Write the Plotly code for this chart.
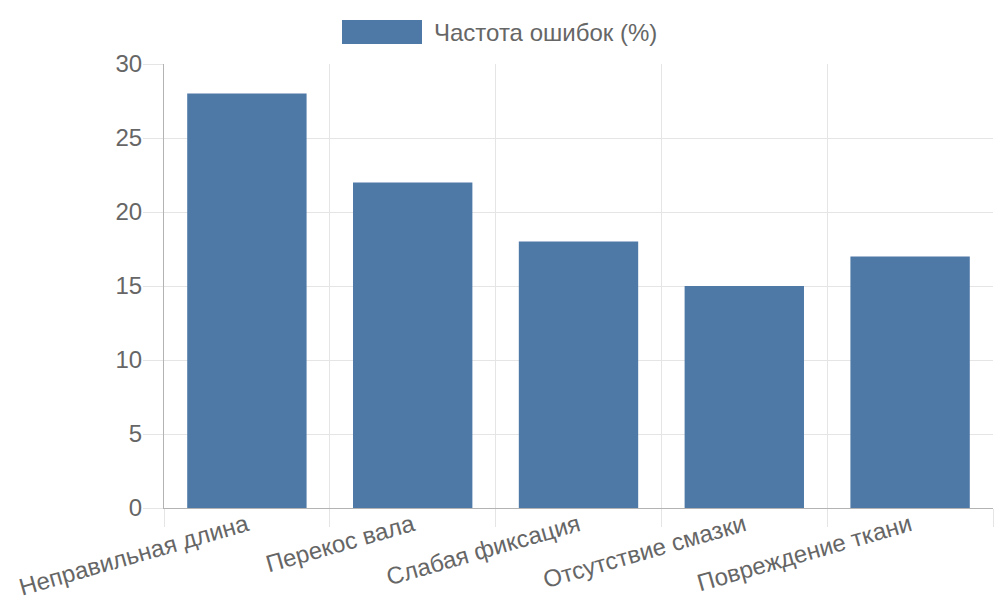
import plotly.graph_objects as go

categories = ["Неправильная длина", "Перекос вала", "Слабая фиксация", "Отсутствие смазки", "Повреждение ткани"]
values = [28, 22, 18, 15, 17]
series_name = "Частота ошибок (%)"
y_ticks = [0, 5, 10, 15, 20, 25, 30]

bar_color = "#4e79a7"
text_color = "#666666"
grid_color = "#e5e5e5"
axis_color = "#b3b3b3"
font_family = "Liberation Sans, Arial, sans-serif"
fsize = 24

fig = go.Figure()
fig.add_trace(go.Bar(
    x=categories, y=values, name=series_name,
    marker=dict(color=bar_color, line=dict(width=0)),
    showlegend=False,
))

W, H = 1000, 600
L, R, T, B = 164, 7, 64, 92
pw, ph = W - L - R, H - T - B

def px_x(p):
    return (p - L) / pw

def px_y(p):
    return (H - B - p) / ph

fig.add_shape(type="rect", xref="paper", yref="paper",
              x0=px_x(342), x1=px_x(422), y0=px_y(44), y1=px_y(20),
              fillcolor=bar_color, line=dict(width=0))
fig.add_annotation(xref="paper", yref="paper", x=px_x(432), y=px_y(32),
                   text=series_name, showarrow=False, xanchor="left", yanchor="middle",
                   font=dict(size=fsize, color=text_color, family=font_family))

fig.update_layout(
    width=W, height=H,
    margin=dict(l=L, r=R, t=T, b=B, autoexpand=False),
    paper_bgcolor="white", plot_bgcolor="white",
    bargap=0.28,
    font=dict(family=font_family, size=fsize, color=text_color),
    showlegend=False,
)
fig.update_xaxes(
    type="category", range=[-0.5, 4.5], tickson="boundaries",
    showgrid=True, gridcolor=grid_color, gridwidth=1,
    ticks="outside", ticklen=18, tickcolor=grid_color,
    ticklabelstandoff=-7,
    showline=True, linecolor=axis_color, linewidth=1,
    tickangle=-16, tickfont=dict(size=fsize, color=text_color),
    automargin=False,
)
fig.update_yaxes(
    range=[0, 30], tickvals=y_ticks,
    showgrid=True, gridcolor=grid_color, gridwidth=1,
    ticks="outside", ticklen=20, tickcolor=grid_color,
    ticklabelstandoff=-4,
    showline=True, linecolor=axis_color, linewidth=1,
    zeroline=False, tickfont=dict(size=fsize, color=text_color),
    automargin=False,
)

fig.write_html("out.html", config={"displayModeBar": False},
               post_script="document.body.style.margin='0';document.body.style.overflow='hidden';")
